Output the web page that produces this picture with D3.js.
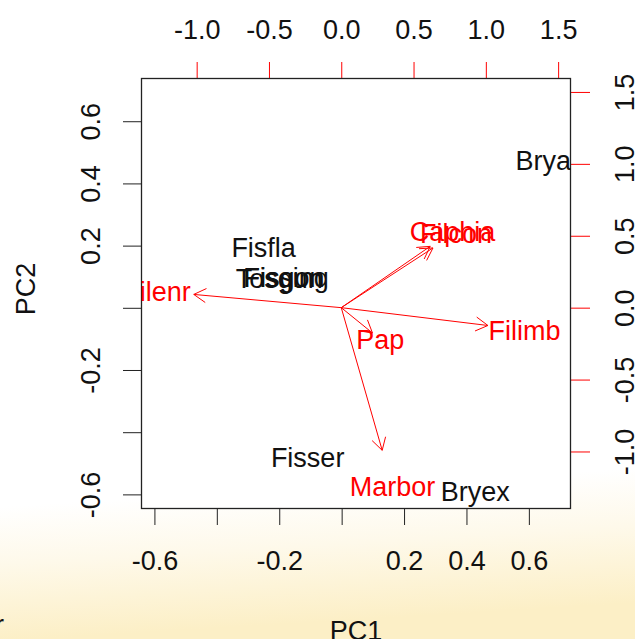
<!DOCTYPE html>
<html><head><meta charset="utf-8">
<script src="https://cdn.jsdelivr.net/npm/d3@7"></script>
<style>html,body{margin:0;padding:0;background:#fff;}svg{display:block;}</style>
</head><body>
<script>
// Scores (black labels)
const scoreLabels = ["Fisfla","Tosgun","Fisgon","Fissing","Fisser","Bryex","Brya"];
const scoreX = [-0.250,-0.200,-0.185,-0.178,-0.109,0.428,0.646];
const scoreY = [0.195,0.094,0.097,0.098,-0.480,-0.589,0.475];
// Loadings (red labels + arrows)
const varLabels = ["Filenr","Caphia","Filcon","Filimb","Pap","Marbor"];
const varX = [-1.275,0.769,0.793,1.268,0.270,0.354];
const varY = [0.115,0.533,0.519,-0.155,-0.220,-1.240];
// Axis ticks
const bottomTicks = [-0.6,-0.4,-0.2,0.0,0.2,0.4,0.6];
const bottomTickLabels = ["-0.6","","-0.2","","0.2","0.4","0.6"];
const leftTicks = [-0.6,-0.4,-0.2,0.0,0.2,0.4,0.6];
const leftTickLabels = ["-0.6","","-0.2","","0.2","0.4","0.6"];
const topTicks = [-1.0,-0.5,0.0,0.5,1.0,1.5];
const topTickLabels = ["-1.0","-0.5","0.0","0.5","1.0","1.5"];
const rightTicks = [-1.0,-0.5,0.0,0.5,1.0,1.5];
const rightTickLabels = ["-1.0","-0.5","0.0","0.5","1.0","1.5"];

const W = 635, H = 639;
const box = {l:141, r:571, t:78, b:509};
const font = "'Liberation Sans', Arial, sans-serif";
const fs = 27;

const svg = d3.select("body").append("svg").attr("width", W).attr("height", H);
const defs = svg.append("defs");
const g = defs.append("linearGradient").attr("id","bg").attr("x1",0).attr("y1",0).attr("x2",0.06).attr("y2",1);
g.append("stop").attr("offset","0.79").attr("stop-color","#ffffff");
g.append("stop").attr("offset","0.88").attr("stop-color","#fef9ea");
g.append("stop").attr("offset","1").attr("stop-color","#fcefc6");
svg.append("rect").attr("width",W).attr("height",H).attr("fill","url(#bg)");
defs.append("clipPath").attr("id","clip").append("rect")
  .attr("x",box.l).attr("y",box.t).attr("width",box.r-box.l).attr("height",box.b-box.t);

// plot area background white
svg.append("rect").attr("x",box.l).attr("y",box.t).attr("width",box.r-box.l).attr("height",box.b-box.t).attr("fill","#fff");

const x = d3.scaleLinear().domain([-0.643,0.735]).range([box.l,box.r]);
const y = d3.scaleLinear().domain([-0.647,0.739]).range([box.b,box.t]);
const x2 = d3.scaleLinear().domain([-1.385,1.589]).range([box.l,box.r]);
const y2 = d3.scaleLinear().domain([-1.400,1.597]).range([box.b,box.t]);

function styleAxis(sel, col){
  sel.select(".domain").remove();
  sel.selectAll(".tick line").attr("stroke",col).attr("stroke-width",1);
  sel.selectAll(".tick text").attr("fill","#111").attr("font-family",font).attr("font-size",fs);
}
const tl = 16;
// bottom
const ax1 = svg.append("g").attr("transform",`translate(0,${box.b})`)
  .call(d3.axisBottom(x).tickValues(bottomTicks).tickSize(tl).tickPadding(0)
    .tickFormat((d,i)=>bottomTickLabels[i]));
styleAxis(ax1,"#222");
ax1.selectAll(".tick text").attr("dy",null).attr("y",61);
// left
const ax2 = svg.append("g").attr("transform",`translate(${box.l},0)`)
  .call(d3.axisLeft(y).tickValues(leftTicks).tickSize(tl+2)
    .tickFormat((d,i)=>leftTickLabels[i]));
styleAxis(ax2,"#222");
ax2.selectAll(".tick text").attr("x",null).attr("dy",null)
  .attr("transform","translate(-41,0) rotate(-90)").attr("text-anchor","middle");
// top
const ax3 = svg.append("g").attr("transform",`translate(0,${box.t})`)
  .call(d3.axisTop(x2).tickValues(topTicks).tickSize(tl)
    .tickFormat((d,i)=>topTickLabels[i]));
styleAxis(ax3,"#ff0000");
ax3.selectAll(".tick text").attr("dy",null).attr("y",-39);
// right
const ax4 = svg.append("g").attr("transform",`translate(${box.r},0)`)
  .call(d3.axisRight(y2).tickValues(rightTicks).tickSize(tl+3)
    .tickFormat((d,i)=>rightTickLabels[i]));
styleAxis(ax4,"#ff0000");
ax4.selectAll(".tick text").attr("x",null).attr("dy",null)
  .attr("transform","translate(63,0) rotate(-90)").attr("text-anchor","middle");

// box
svg.append("rect").attr("x",box.l+0.5).attr("y",box.t+0.5).attr("width",box.r-box.l-1).attr("height",box.b-box.t-1)
  .attr("fill","none").attr("stroke","#222").attr("stroke-width",1.3);

const plot = svg.append("g").attr("clip-path","url(#clip)");

// arrows at 0.8 of loadings
const headLen = 14, ang = Math.PI/6;
varLabels.forEach((lab,i)=>{
  const x0 = x2(0), y0 = y2(0);
  const x1 = x2(varX[i]*0.8), y1 = y2(varY[i]*0.8);
  const th = Math.atan2(y1-y0, x1-x0);
  const p = d3.path();
  p.moveTo(x0,y0); p.lineTo(x1,y1);
  p.moveTo(x1 - headLen*Math.cos(th-ang), y1 - headLen*Math.sin(th-ang));
  p.lineTo(x1,y1);
  p.lineTo(x1 - headLen*Math.cos(th+ang), y1 - headLen*Math.sin(th+ang));
  plot.append("path").attr("d",p.toString()).attr("fill","none").attr("stroke","#ff0000").attr("stroke-width",1);
});

plot.selectAll("text.var").data(varLabels).join("text").attr("class","var")
  .attr("x",(d,i)=>x2(varX[i])).attr("y",(d,i)=>y2(varY[i]))
  .attr("dy","0.36em").attr("text-anchor","middle")
  .attr("font-family",font).attr("font-size",fs).attr("fill","#ff0000").text(d=>d);

plot.selectAll("text.obs").data(scoreLabels).join("text").attr("class","obs")
  .attr("x",(d,i)=>x(scoreX[i])).attr("y",(d,i)=>y(scoreY[i]))
  .attr("dy","0.36em").attr("text-anchor","middle")
  .attr("font-family",font).attr("font-size",fs).attr("fill","#111").text(d=>d);

// axis titles
svg.append("text").attr("x",(box.l+box.r)/2).attr("y",640).attr("text-anchor","middle")
  .attr("font-family",font).attr("font-size",fs).attr("fill","#111").text("PC1");
svg.append("text").attr("transform",`translate(35,289) rotate(-90)`).attr("text-anchor","middle")
  .attr("font-family",font).attr("font-size",fs).attr("fill","#111").text("PC2");
// stray glyph at bottom-left edge
svg.append("text").attr("x",-5).attr("y",634).attr("font-family",font).attr("font-size",fs).attr("fill","#111").text("r");
</script>
</body></html>
